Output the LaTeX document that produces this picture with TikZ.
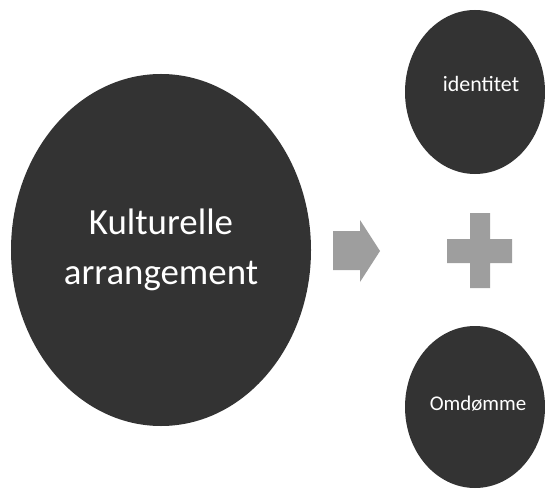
\documentclass[tikz,border=0pt]{standalone}
\usepackage{fontspec}
\setmainfont{Carlito}
\usetikzlibrary{shapes.geometric}
\definecolor{bubble}{gray}{0.2}
\definecolor{shapegray}{gray}{0.62}
\tikzset{
  bubble/.style={ellipse, fill=bubble, draw=none, inner sep=0pt, text=white, align=center},
  sign/.style={fill=shapegray, draw=none}
}
\begin{document}
\begin{tikzpicture}[x=1bp, y=-1bp]
\useasboundingbox (0,0) rectangle (545,489);
\node[bubble, minimum width=300bp, minimum height=352bp, font=\fontsize{37}{50}\selectfont] (kult) at (161,250) {Kulturelle\\arrangement};
\node[bubble, minimum width=140bp, minimum height=164bp, font=\fontsize{22}{26}\selectfont] (ident) at (475,92) {};
\node[text=white, font=\fontsize{22}{26}\selectfont] (identtxt) at (481,84) {identitet};
\node[bubble, minimum width=140bp, minimum height=162bp, font=\fontsize{21}{25}\selectfont] (omd) at (475,407) {};
\node[text=white, font=\fontsize{21}{25}\selectfont] (omdtxt) at (478,404) {Omdømme};
% arrow
\fill[sign] (333,231) -- (360,231) -- (360,220) -- (380,251) -- (360,282) -- (360,270) -- (333,270) -- cycle;
% plus
\fill[sign] (470,213) -- (490,213) -- (490,239) -- (512,239) -- (512,263) -- (490,263) -- (490,288) -- (470,288) -- (470,263) -- (447,263) -- (447,239) -- (470,239) -- cycle;
\end{tikzpicture}
\end{document}
